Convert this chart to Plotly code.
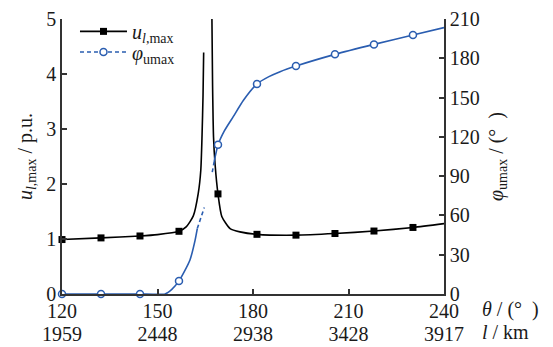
import plotly.graph_objects as go

# ---- tick labels ----
theta_ticks = [120, 150, 180, 210, 240]
l_ticks = ["1959", "2448", "2938", "3428", "3917"]
u_ticks = [0, 1, 2, 3, 4, 5]
phi_ticks = [0, 30, 60, 90, 120, 150, 180, 210]

# ---- marker samples ----
marker_theta = [120, 132.25, 144.5, 156.75, 169, 181.25, 193.5, 205.75, 218, 230.25]
u_marker = [0.99, 1.02, 1.055, 1.14, 1.82, 1.085, 1.07, 1.10, 1.145, 1.21]
phi_marker = [0, 0, 0, 10, 114, 160.4, 174.1, 183, 190.6, 197.8]

# ---- u_l,max curve (two branches around resonance) ----
u_left_theta = [120, 132.25, 144.5, 150, 156.75, 159, 161.25, 162.8, 163.6, 164.0, 164.3, 164.5]
u_left = [0.99, 1.02, 1.055, 1.08, 1.14, 1.22, 1.42, 1.83, 2.25, 2.9, 3.6, 4.39]
u_right_theta = [167.1, 167.3, 167.6, 168.1, 169, 170.2, 172.8, 175.9, 181.25, 193.5, 205.75, 218, 230.25, 240]
u_right = [5.0, 3.8, 2.85, 2.35, 1.82, 1.41, 1.19, 1.13, 1.085, 1.07, 1.10, 1.145, 1.21, 1.28]

# ---- phi_umax curve ----
phi_s1_theta = [120, 132.25, 144.5, 152.4, 154.5, 156.75, 158.5, 160.2, 161.8, 162.5]
phi_s1 = [0, 0, 0, 0, 3.5, 10, 17.5, 26, 41, 50]
phi_d1_theta = [162.5, 163.6, 164.7]
phi_d1 = [50, 58, 66]
phi_d2_theta = [167.2, 167.8]
phi_d2 = [93, 101]
phi_s2_theta = [167.8, 169, 171, 173.8, 177, 181.25, 185, 188.5, 193.5, 205.75, 218, 230.25, 240]
phi_s2 = [101, 113.8, 124.5, 135.4, 148, 160.4, 166, 169.8, 174.1, 183, 190.6, 197.8, 203.4]

BLACK = "#000000"
BLUE = "#2a5db0"
AX = "#333333"
FONT = "Times New Roman, Liberation Serif, DejaVu Serif, serif"
TXT = "#1a1a1a"

fig = go.Figure()

# u curves
for xs, ys in [(u_left_theta, u_left), (u_right_theta, u_right)]:
    fig.add_trace(go.Scatter(x=xs, y=ys, mode="lines", line=dict(color=BLACK, width=1.6, shape="spline", smoothing=0.6),
                             showlegend=False, hoverinfo="skip", cliponaxis=True))
fig.add_trace(go.Scatter(x=marker_theta, y=u_marker, mode="markers",
                         marker=dict(symbol="square", size=7, color=BLACK), showlegend=False, cliponaxis=False))

# phi curves
fig.add_trace(go.Scatter(x=phi_s1_theta, y=phi_s1, yaxis="y2", mode="lines",
                         line=dict(color=BLUE, width=1.6, shape="spline", smoothing=0.5), showlegend=False))
fig.add_trace(go.Scatter(x=phi_d1_theta, y=phi_d1, yaxis="y2", mode="lines",
                         line=dict(color=BLUE, width=1.6, dash="4px,3px"), showlegend=False))
fig.add_trace(go.Scatter(x=phi_d2_theta, y=phi_d2, yaxis="y2", mode="lines",
                         line=dict(color=BLUE, width=1.6, dash="4px,3px"), showlegend=False))
fig.add_trace(go.Scatter(x=phi_s2_theta, y=phi_s2, yaxis="y2", mode="lines",
                         line=dict(color=BLUE, width=1.6, shape="spline", smoothing=0.6), showlegend=False))
fig.add_trace(go.Scatter(x=marker_theta, y=phi_marker, yaxis="y2", mode="markers",
                         marker=dict(symbol="circle", size=7, color="white", line=dict(color=BLUE, width=1.5)),
                         showlegend=False, cliponaxis=False))

# legend entries
fig.add_trace(go.Scatter(x=[None], y=[None], mode="lines+markers", name="<i>u</i><sub><i>l</i>,max</sub>",
                         line=dict(color=BLACK, width=1.6), marker=dict(symbol="square", size=7, color=BLACK),
                         legend="legend"))
fig.add_trace(go.Scatter(x=[None], y=[None], mode="lines+markers", name="<i>φ</i><sub>umax</sub>",
                         line=dict(color=BLUE, width=1.6, dash="4px,3px"),
                         marker=dict(symbol="circle", size=7, color="white", line=dict(color=BLUE, width=1.5)),
                         legend="legend2"))

# dummy for km axis
fig.add_trace(go.Scatter(x=[None], y=[None], xaxis="x2", showlegend=False, hoverinfo="skip"))

leg_common = dict(xanchor="left", yanchor="middle", bgcolor="rgba(0,0,0,0)",
                  font=dict(family=FONT, size=20, color=TXT), itemwidth=47)

fig.update_layout(
    width=553, height=347,
    margin=dict(l=62, r=109, t=19, b=53, autoexpand=False),
    paper_bgcolor="white", plot_bgcolor="white",
    font=dict(family=FONT, size=20, color=TXT),
    showlegend=True,
    legend=dict(x=0.034, y=0.955, **leg_common),
    legend2=dict(x=0.034, y=0.880, **leg_common),
    xaxis=dict(range=[120, 240], tickvals=theta_ticks, ticktext=[str(t) for t in theta_ticks],
               ticks="inside", ticklen=5, tickwidth=1.5, tickcolor=AX, automargin=False,
               showline=True, linecolor=AX, linewidth=1.5, showgrid=False, zeroline=False,
               ticklabelstandoff=-2, tickfont=dict(family=FONT, size=20, color=TXT)),
    xaxis2=dict(range=[120, 240], overlaying="x", side="bottom", anchor="y", automargin=False,
                tickvals=theta_ticks, ticktext=l_ticks, ticks="", showline=False, showgrid=False,
                zeroline=False, ticklabelstandoff=26, tickfont=dict(family=FONT, size=20, color=TXT)),
    yaxis=dict(range=[0, 5], tickvals=u_ticks, ticks="inside", ticklen=5, tickwidth=1.5, tickcolor=AX,
               showline=True, linecolor=AX, linewidth=1.5, showgrid=False, zeroline=False, automargin=False,
               tickfont=dict(family=FONT, size=20, color=TXT),
               title=dict(text="<i>u</i><sub><i>l</i>,max</sub> / p.u.", standoff=8,
                          font=dict(family=FONT, size=20, color=TXT))),
    yaxis2=dict(range=[0, 210], tickvals=phi_ticks, overlaying="y", side="right", anchor="x",
                ticks="inside", ticklen=5, tickwidth=1.5, tickcolor=AX, automargin=False,
                showline=True, linecolor=AX, linewidth=1.5, showgrid=False, zeroline=False,
                tickfont=dict(family=FONT, size=20, color=TXT),
                title=dict(text="<i>φ</i><sub>umax</sub> / (°\u00a0\u00a0)", standoff=10,
                           font=dict(family=FONT, size=20, color=TXT))),
    annotations=[
        dict(text="<i>θ</i> / (°\u00a0\u00a0)", xref="paper", yref="paper", x=1.094, y=-0.058,
             xanchor="left", yanchor="middle", showarrow=False, font=dict(family=FONT, size=20, color=TXT)),
        dict(text="<i>l</i> / km", xref="paper", yref="paper", x=1.094, y=-0.138,
             xanchor="left", yanchor="middle", showarrow=False, font=dict(family=FONT, size=20, color=TXT)),
    ],
)

fig.write_html("out.html", config={"displayModeBar": False},
               post_script="document.body.style.margin='0px';document.body.style.overflow='hidden';")
